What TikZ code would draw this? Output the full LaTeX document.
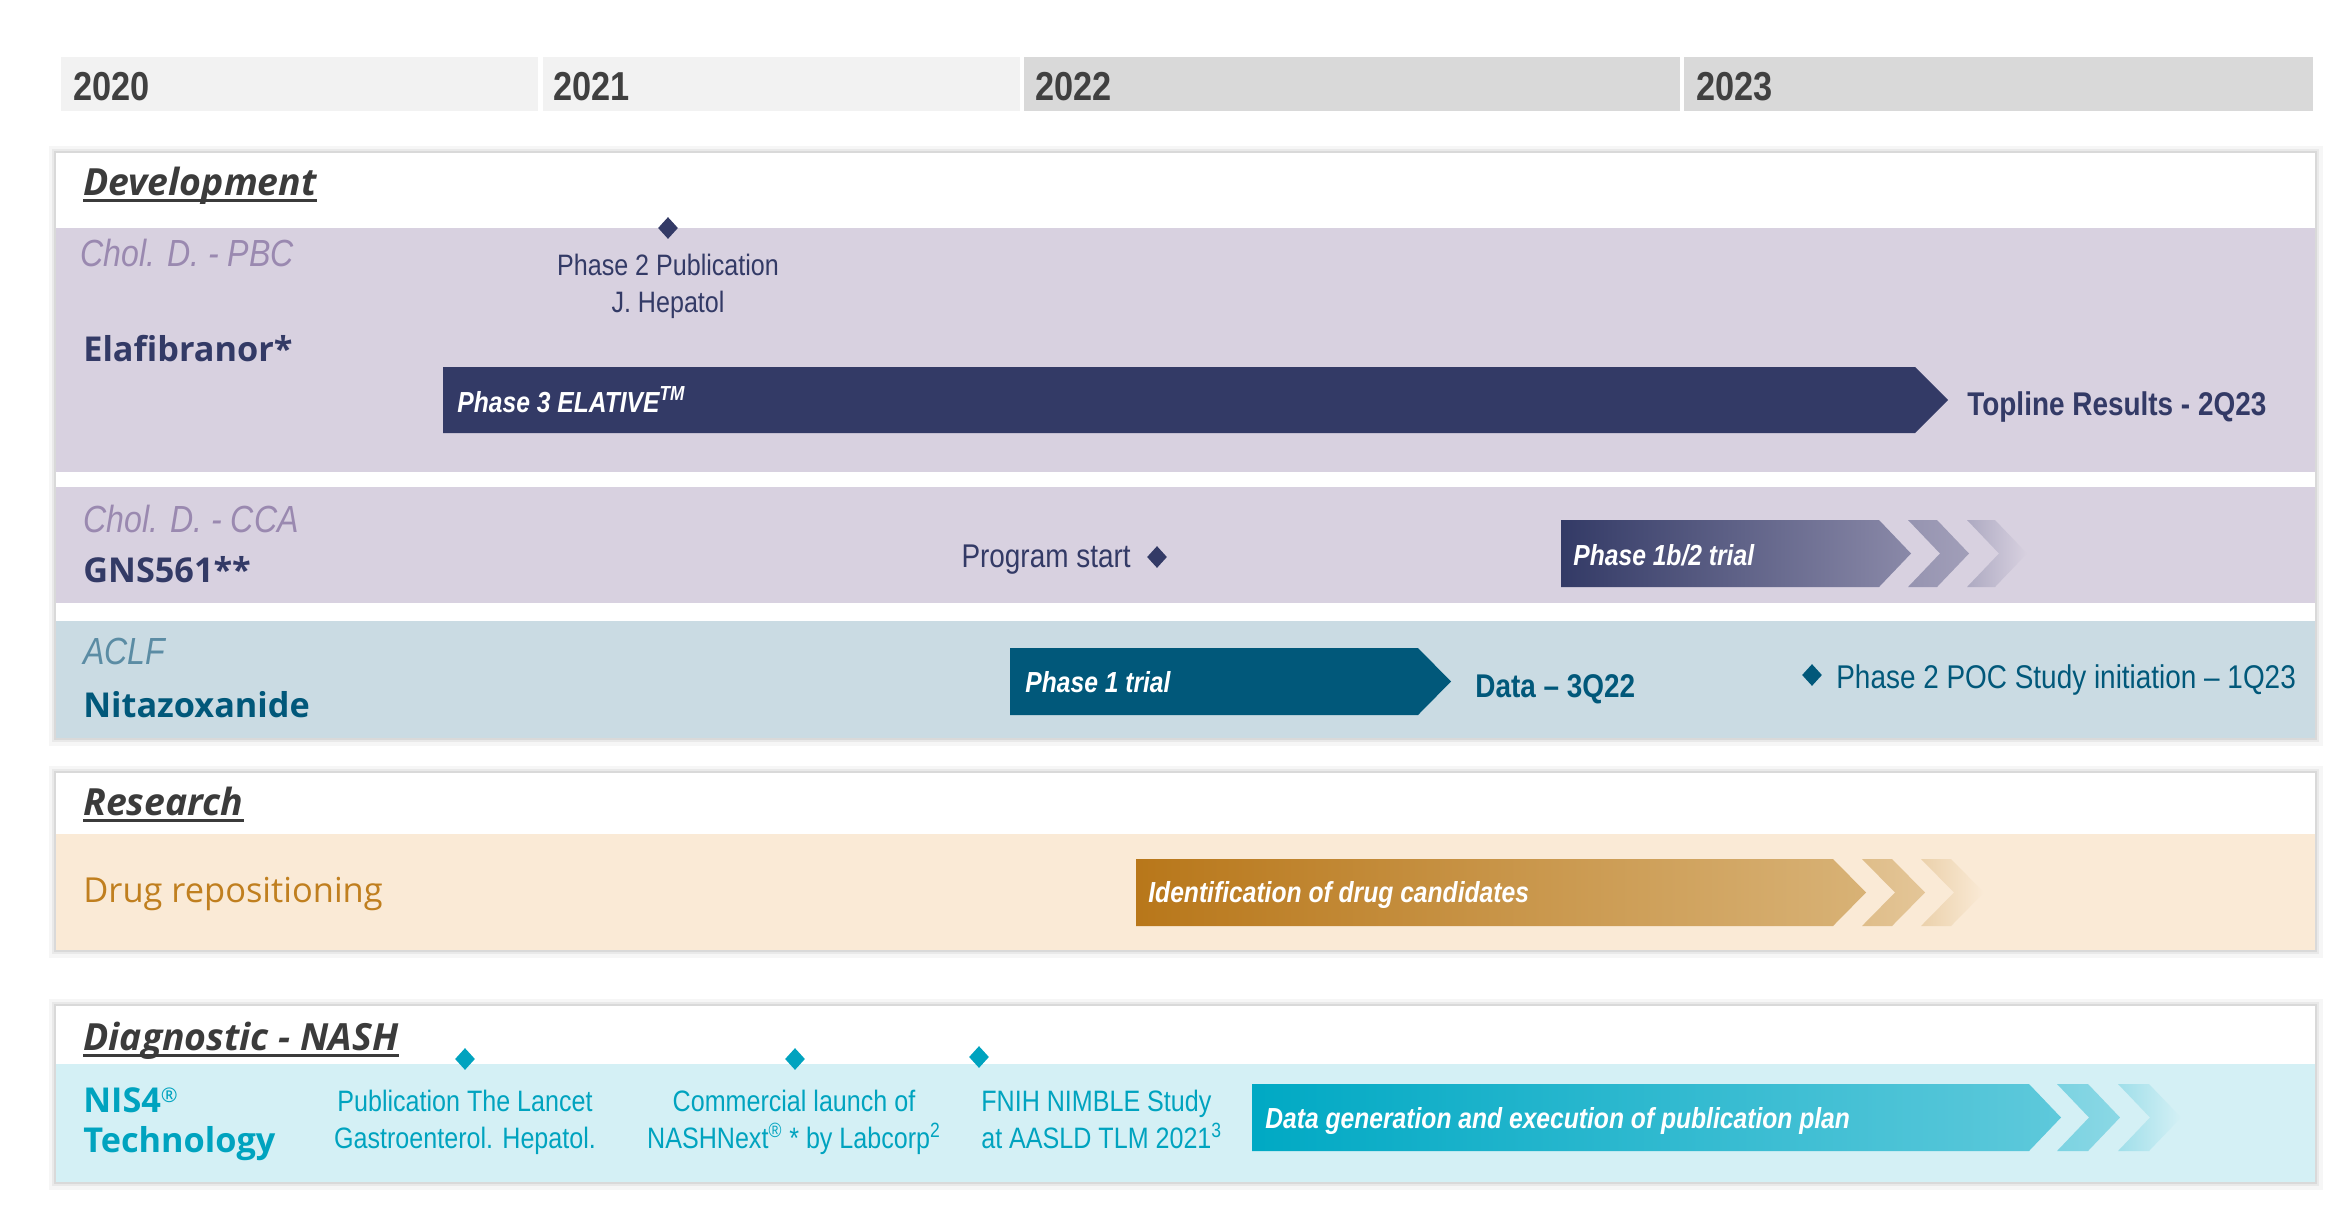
\documentclass[tikz,border=0pt]{standalone}
\usepackage{fontspec}
\usepackage{xcolor}
\usepackage{tikz}
\usetikzlibrary{shapes.geometric,calc}
\newfontfamily\osfont{Open Sans}
\newfontfamily\narrowfont[FakeStretch=0.85]{Liberation Sans}
\definecolor{tlyearlt}{HTML}{F2F2F2}
\definecolor{tlyeardk}{HTML}{D9D9D9}
\definecolor{tlyeartext}{HTML}{404040}
\definecolor{tlhead}{HTML}{3B3B3B}
\definecolor{tllav}{HTML}{D8D1E0}
\definecolor{tllavtext}{HTML}{9A89B0}
\definecolor{tlnavy}{HTML}{333A66}
\definecolor{tlnavylt}{HTML}{8A89A8}
\definecolor{tlblue}{HTML}{CADBE3}
\definecolor{tlteal}{HTML}{01587A}
\definecolor{tlteallt}{HTML}{5B8CA4}
\definecolor{tlbeige}{HTML}{FAEAD6}
\definecolor{tlgold}{HTML}{B8771A}
\definecolor{tlgoldlt}{HTML}{D8B276}
\definecolor{tlgoldtext}{HTML}{C07F1F}
\definecolor{tlcyanbg}{HTML}{D4F0F5}
\definecolor{tlcyan}{HTML}{00A9C4}
\definecolor{tlcyanlt}{HTML}{5EC9DB}
\definecolor{tlcyantext}{HTML}{00A3BF}
\tikzset{
    tl year/.style={anchor=base west, inner sep=0pt, text=tlyeartext,
        font=\narrowfont\bfseries\fontsize{23}{26}\selectfont},
    tl section/.style={anchor=base west, inner sep=0pt, text=tlhead,
        font=\osfont\bfseries\itshape\fontsize{21.3}{25}\selectfont},
    tl uline/.style={draw=tlhead, line width=0.06cm},
    tl area/.style={anchor=base west, inner sep=0pt,
        font=\narrowfont\itshape\fontsize{21.5}{25}\selectfont},
    tl drug/.style={anchor=base west, inner sep=0pt,
        font=\osfont\bfseries\fontsize{19.5}{23}\selectfont},
    tl note/.style={anchor=north, inner sep=0pt, align=center,
        font=\narrowfont\fontsize{16.8}{20.8}\selectfont},
    tl label/.style={anchor=base west, inner sep=0pt,
        font=\narrowfont\fontsize{18.7}{22}\selectfont},
    tl result/.style={anchor=base west, inner sep=0pt,
        font=\narrowfont\bfseries\fontsize{18.7}{22}\selectfont},
    tl bar text/.style={anchor=base west, inner sep=0pt, text=white,
        font=\narrowfont\bfseries\itshape\fontsize{16.5}{20}\selectfont},
    tl mark/.style={diamond, fill=#1, inner sep=0pt,
        minimum width=0.4cm, minimum height=0.44cm},
    tl card/.style={fill=white,
        preaction={draw=black, opacity=.035, line width=0.30cm},
        preaction={draw=black, opacity=.05, line width=0.17cm},
        preaction={draw=black, opacity=.07, line width=0.07cm}}
}
\begin{document}
\begin{tikzpicture}[x=0.02cm, y=-0.02cm]
\useasboundingbox (0,0) rectangle (2350,1225);

% Year header
\fill[tlyearlt] (61,57) rectangle (538,111);
\fill[tlyearlt] (543,57) rectangle (1020,111);
\fill[tlyeardk] (1024,57) rectangle (1680,111);
\fill[tlyeardk] (1684,57) rectangle (2313,111);
\node[tl year] (y20) at (73,100) {2020};
\node[tl year] (y21) at (553,100) {2021};
\node[tl year] (y22) at (1035,100) {2022};
\node[tl year] (y23) at (1696,100) {2023};

% Development panel
\path[tl card] (56,153) rectangle (2315,738);
\fill[tllav] (56,228) rectangle (2315,472);
\fill[tllav] (56,487) rectangle (2315,603);
\fill[tlblue] (56,621) rectangle (2315,738);
\node[tl section] (dev) at (83,195) {Development};
\draw[tl uline] ($(dev.base west)+(0,5)$) -- ($(dev.base east)+(0,5)$);

% Row: PBC
\node[tl area, text=tllavtext] (pbc) at (80,266) {Chol. D. - PBC};
\node[tl drug, text=tlnavy] (ela) at (83,361) {Elafibranor*};
\node[tl mark=tlnavy] (pubmk) at (668,228) {};
\node[tl note, text=tlnavy] (pub) at (668,254) {Phase 2 Publication\\J. Hepatol};
\fill[tlnavy] (443,367) -- (1915,367) -- (1948,400) -- (1915,433) -- (443,433) -- cycle;
\node[tl bar text] (ph3) at (457,412) {Phase 3 ELATIVE\textsuperscript{TM}};
\node[tl result, text=tlnavy] (topline) at (1967,415) {Topline Results - 2Q23};

% Row: CCA
\node[tl area, text=tllavtext] (cca) at (83,532) {Chol. D. - CCA};
\node[tl drug, text=tlnavy] (gns) at (83,582) {GNS561**};
\node[tl mark=tlnavy] (startmk) at (1157,557) {};
\node[tl label, text=tlnavy, anchor=base east] (start) at (1131,567) {Program start};
\shade[left color=tlnavy, middle color=tlnavy!80!tlnavylt, right color=tlnavylt]
    (1561,520) -- (1879,520) -- (1911,553.5) -- (1879,587) -- (1561,587) -- cycle;
\shade[left color=tlnavylt!85!tllav, right color=tlnavylt!70!tllav]
    (1908,520) -- (1937,520) -- (1969,553.5) -- (1937,587) -- (1908,587) -- (1940,553.5) -- cycle;
\shade[left color=tlnavylt!55!tllav, right color=tllav]
    (1967,520) -- (1995,520) -- (2027,553.5) -- (1995,587) -- (1967,587) -- (1999,553.5) -- cycle;
\node[tl bar text] (ph1b) at (1573,565) {Phase 1b/2 trial};

% Row: ACLF
\node[tl area, text=tlteallt] (aclf) at (83,664) {ACLF};
\node[tl drug, text=tlteal] (nita) at (83,717) {Nitazoxanide};
\fill[tlteal] (1010,648) -- (1418,648) -- (1451,681.5) -- (1418,715) -- (1010,715) -- cycle;
\node[tl bar text] (ph1) at (1025,692) {Phase 1 trial};
\node[tl result, text=tlteal] (data) at (1475,697) {Data \textendash{} 3Q22};
\node[tl mark=tlteal] (pocmk) at (1812,675) {};
\node[tl label, text=tlteal] (poc) at (1836,688) {Phase 2 POC Study initiation \textendash{} 1Q23};

% Research panel
\path[tl card] (56,773) rectangle (2315,950);
\fill[tlbeige] (56,834) rectangle (2315,950);
\node[tl section] (res) at (83,815) {Research};
\draw[tl uline] ($(res.base west)+(0,5)$) -- ($(res.base east)+(0,5)$);
\node[anchor=base west, inner sep=0pt, text=tlgoldtext,
    font=\osfont\fontsize{19.6}{23}\selectfont] (repo) at (83,902) {Drug repositioning};
\shade[left color=tlgold, middle color=tlgold!90!tlgoldlt, right color=tlgoldlt]
    (1136,859) -- (1833,859) -- (1866,892.5) -- (1833,926) -- (1136,926) -- cycle;
\shade[left color=tlgoldlt!80!tlbeige, right color=tlgoldlt!65!tlbeige]
    (1862,859) -- (1892,859) -- (1925,892.5) -- (1892,926) -- (1862,926) -- (1895,892.5) -- cycle;
\shade[left color=tlgoldlt!45!tlbeige, right color=tlbeige]
    (1921,859) -- (1951,859) -- (1984,892.5) -- (1951,926) -- (1921,926) -- (1954,892.5) -- cycle;
\node[tl bar text] (ident) at (1148,902) {Identification of drug candidates};

% Diagnostic panel
\path[tl card] (56,1006) rectangle (2315,1182);
\fill[tlcyanbg] (56,1064) rectangle (2315,1182);
\node[tl section] (diag) at (83,1050) {Diagnostic - NASH};
\draw[tl uline] ($(diag.base west)+(0,5)$) -- ($(diag.base east)+(0,5)$);
\node[tl drug, text=tlcyantext, anchor=north west, align=left] (nis) at (83,1087)
    {NIS4\raisebox{0.28em}{\mdseries\fontsize{11.5}{12}\selectfont ®}\\Technology};
\node[tl mark=tlcyantext] (lancetmk) at (465,1059) {};
\node[tl mark=tlcyantext] (launchmk) at (795,1059) {};
\node[tl mark=tlcyantext] (nimblemk) at (979,1057) {};
\node[tl note, text=tlcyantext] (lancet) at (465,1090) {Publication The Lancet\\Gastroenterol. Hepatol.};
\node[tl note, text=tlcyantext] (launch) at (794,1090)
    {Commercial launch of\\NASHNext\textsuperscript{®} * by Labcorp\textsuperscript{2}};
\node[tl note, text=tlcyantext, anchor=north west, align=left] (nimble) at (981,1090)
    {FNIH NIMBLE Study\\at AASLD TLM 2021\textsuperscript{3}};
\shade[left color=tlcyan, middle color=tlcyan!92!tlcyanlt, right color=tlcyanlt]
    (1252,1084) -- (2029,1084) -- (2061,1117.5) -- (2029,1151) -- (1252,1151) -- cycle;
\shade[left color=tlcyanlt!75!tlcyanbg, right color=tlcyanlt!62!tlcyanbg]
    (2057,1084) -- (2088,1084) -- (2120,1117.5) -- (2088,1151) -- (2057,1151) -- (2089,1117.5) -- cycle;
\shade[left color=tlcyanlt!45!tlcyanbg, right color=tlcyanbg]
    (2118,1084) -- (2149,1084) -- (2181,1117.5) -- (2149,1151) -- (2118,1151) -- (2150,1117.5) -- cycle;
\node[tl bar text] (datagen) at (1265,1128) {Data generation and execution of publication plan};
\end{tikzpicture}
\end{document}
